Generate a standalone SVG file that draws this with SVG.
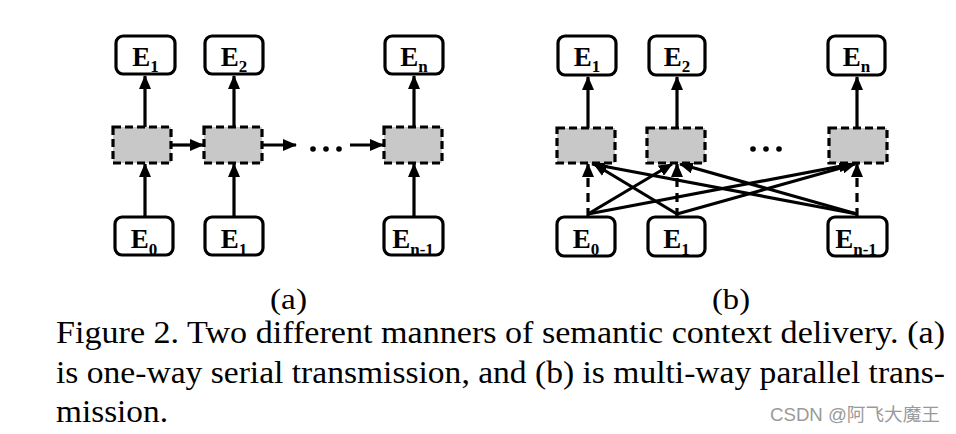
<svg xmlns="http://www.w3.org/2000/svg" width="956" height="434" viewBox="0 0 956 434">
<style>
.box{fill:#fff;stroke:#000;stroke-width:3.2}
.mid{fill:#c8c8c8;stroke:#000;stroke-width:3.2;stroke-dasharray:8 4}
.lbl{font-family:'Liberation Serif','Times New Roman',Tinos,serif;font-weight:bold;font-size:27px;fill:#000;text-anchor:middle}
.sub{font-size:17px}
.ln{stroke:#000;stroke-width:3.2;fill:none}
.dl{stroke:#000;stroke-width:3.2;fill:none;stroke-dasharray:9 6}
.cap{font-family:'Liberation Serif','Times New Roman',Tinos,serif;font-size:31px;fill:#000}
</style>
<defs>
<marker id="ah" markerWidth="14" markerHeight="12" refX="13" refY="6" orient="auto" markerUnits="userSpaceOnUse">
<path d="M0,0 L14,6 L0,12 Z" fill="#000"/>
</marker>
</defs>
<rect width="956" height="434" fill="#fff"/>

<g id="connectors">
<line class="ln" x1="145" y1="127" x2="145" y2="76" marker-end="url(#ah)"/>
<line class="ln" x1="234" y1="127" x2="234" y2="76" marker-end="url(#ah)"/>
<line class="ln" x1="414" y1="127" x2="414" y2="76" marker-end="url(#ah)"/>
<line class="ln" x1="145" y1="217" x2="145" y2="164" marker-end="url(#ah)"/>
<line class="ln" x1="234" y1="217" x2="234" y2="164" marker-end="url(#ah)"/>
<line class="ln" x1="414" y1="217" x2="414" y2="164" marker-end="url(#ah)"/>
<line class="ln" x1="171" y1="145" x2="203" y2="145" marker-end="url(#ah)"/>
<line class="ln" x1="263" y1="145" x2="296" y2="145" marker-end="url(#ah)"/>
<line class="ln" x1="350" y1="145" x2="383" y2="145" marker-end="url(#ah)"/>
<line class="ln" x1="588" y1="128" x2="588" y2="77" marker-end="url(#ah)"/>
<line class="ln" x1="677" y1="128" x2="677" y2="77" marker-end="url(#ah)"/>
<line class="ln" x1="857" y1="128" x2="857" y2="77" marker-end="url(#ah)"/>
<line class="dl" x1="588" y1="217" x2="588" y2="164" marker-end="url(#ah)"/>
<line class="dl" x1="677" y1="217" x2="677" y2="164" marker-end="url(#ah)"/>
<line class="dl" x1="857" y1="217" x2="857" y2="164" marker-end="url(#ah)"/>
<line class="ln" x1="588" y1="214" x2="672" y2="164" marker-end="url(#ah)"/>
<line class="ln" x1="588" y1="214" x2="852" y2="164" marker-end="url(#ah)"/>
<line class="ln" x1="677" y1="214" x2="594" y2="164" marker-end="url(#ah)"/>
<line class="ln" x1="677" y1="214" x2="855" y2="164" marker-end="url(#ah)"/>
<line class="ln" x1="857" y1="214" x2="592" y2="164" marker-end="url(#ah)"/>
<line class="ln" x1="857" y1="214" x2="680" y2="164" marker-end="url(#ah)"/>
</g>

<g id="a-dots" fill="#000">
<circle cx="313" cy="149" r="2.8"/><circle cx="326" cy="149" r="2.8"/><circle cx="339" cy="149" r="2.8"/>
</g>
<g id="b-dots" fill="#000">
<circle cx="753" cy="149" r="2.8"/><circle cx="766" cy="149" r="2.8"/><circle cx="779" cy="149" r="2.8"/>
</g>

<g id="a-top-E1"><rect class="box" x="116" y="36" width="59" height="38" rx="7"/><text class="lbl" x="145.5" y="66">E<tspan class="sub" dy="6">1</tspan></text></g>
<g id="a-top-E2"><rect class="box" x="205" y="36" width="58" height="38" rx="7"/><text class="lbl" x="234" y="66">E<tspan class="sub" dy="6">2</tspan></text></g>
<g id="a-top-En"><rect class="box" x="385" y="36" width="58" height="38" rx="7"/><text class="lbl" x="414" y="66">E<tspan class="sub" dy="6">n</tspan></text></g>
<g id="a-mid-1"><rect class="mid" x="113" y="127" width="58" height="36"/></g>
<g id="a-mid-2"><rect class="mid" x="204" y="127" width="58" height="36"/></g>
<g id="a-mid-n"><rect class="mid" x="384" y="127" width="58" height="36"/></g>
<g id="a-bot-E0"><rect class="box" x="115" y="217" width="58" height="38" rx="7"/><text class="lbl" x="144" y="248">E<tspan class="sub" dy="7">0</tspan></text></g>
<g id="a-bot-E1"><rect class="box" x="205" y="217" width="58" height="38" rx="7"/><text class="lbl" x="234" y="248">E<tspan class="sub" dy="7">1</tspan></text></g>
<g id="a-bot-En1"><rect class="box" x="384" y="217" width="59" height="38" rx="7"/><text class="lbl" x="413" y="248">E<tspan class="sub" dy="7">n-1</tspan></text></g>

<g id="b-top-E1"><rect class="box" x="558" y="36" width="58" height="39" rx="7"/><text class="lbl" x="587" y="66">E<tspan class="sub" dy="6">1</tspan></text></g>
<g id="b-top-E2"><rect class="box" x="649" y="36" width="56" height="39" rx="7"/><text class="lbl" x="677" y="66">E<tspan class="sub" dy="6">2</tspan></text></g>
<g id="b-top-En"><rect class="box" x="828" y="36" width="57" height="39" rx="7"/><text class="lbl" x="856.5" y="66">E<tspan class="sub" dy="6">n</tspan></text></g>
<g id="b-mid-1"><rect class="mid" x="557" y="128" width="58" height="35"/></g>
<g id="b-mid-2"><rect class="mid" x="647" y="128" width="58" height="35"/></g>
<g id="b-mid-n"><rect class="mid" x="829" y="128" width="58" height="35"/></g>
<g id="b-bot-E0"><rect class="box" x="557" y="217" width="58" height="39" rx="7"/><text class="lbl" x="586" y="248">E<tspan class="sub" dy="7">0</tspan></text></g>
<g id="b-bot-E1"><rect class="box" x="648" y="217" width="57" height="39" rx="7"/><text class="lbl" x="676.5" y="248">E<tspan class="sub" dy="7">1</tspan></text></g>
<g id="b-bot-En1"><rect class="box" x="828" y="217" width="59" height="39" rx="7"/><text class="lbl" x="856" y="248">E<tspan class="sub" dy="7">n-1</tspan></text></g>

<g id="labels">
<text class="cap" x="270" y="309" textLength="37" lengthAdjust="spacingAndGlyphs" style="font-size:29px">(a)</text>
<text class="cap" x="712" y="309" textLength="38" lengthAdjust="spacingAndGlyphs" style="font-size:29px">(b)</text>
<text class="cap" x="56" y="343" textLength="889" lengthAdjust="spacingAndGlyphs">Figure 2. Two different manners of semantic context delivery. (a)</text>
<text class="cap" x="56" y="383" textLength="889" lengthAdjust="spacingAndGlyphs">is one-way serial transmission, and (b) is multi-way parallel trans-</text>
<text class="cap" x="56" y="422" textLength="112" lengthAdjust="spacingAndGlyphs">mission.</text>
<text x="770" y="421" textLength="170" lengthAdjust="spacingAndGlyphs" font-family="'Liberation Sans','Noto Sans CJK SC',sans-serif" font-size="18" fill="#9a9a9a">CSDN @阿飞大魔王</text>
</g>
</svg>
